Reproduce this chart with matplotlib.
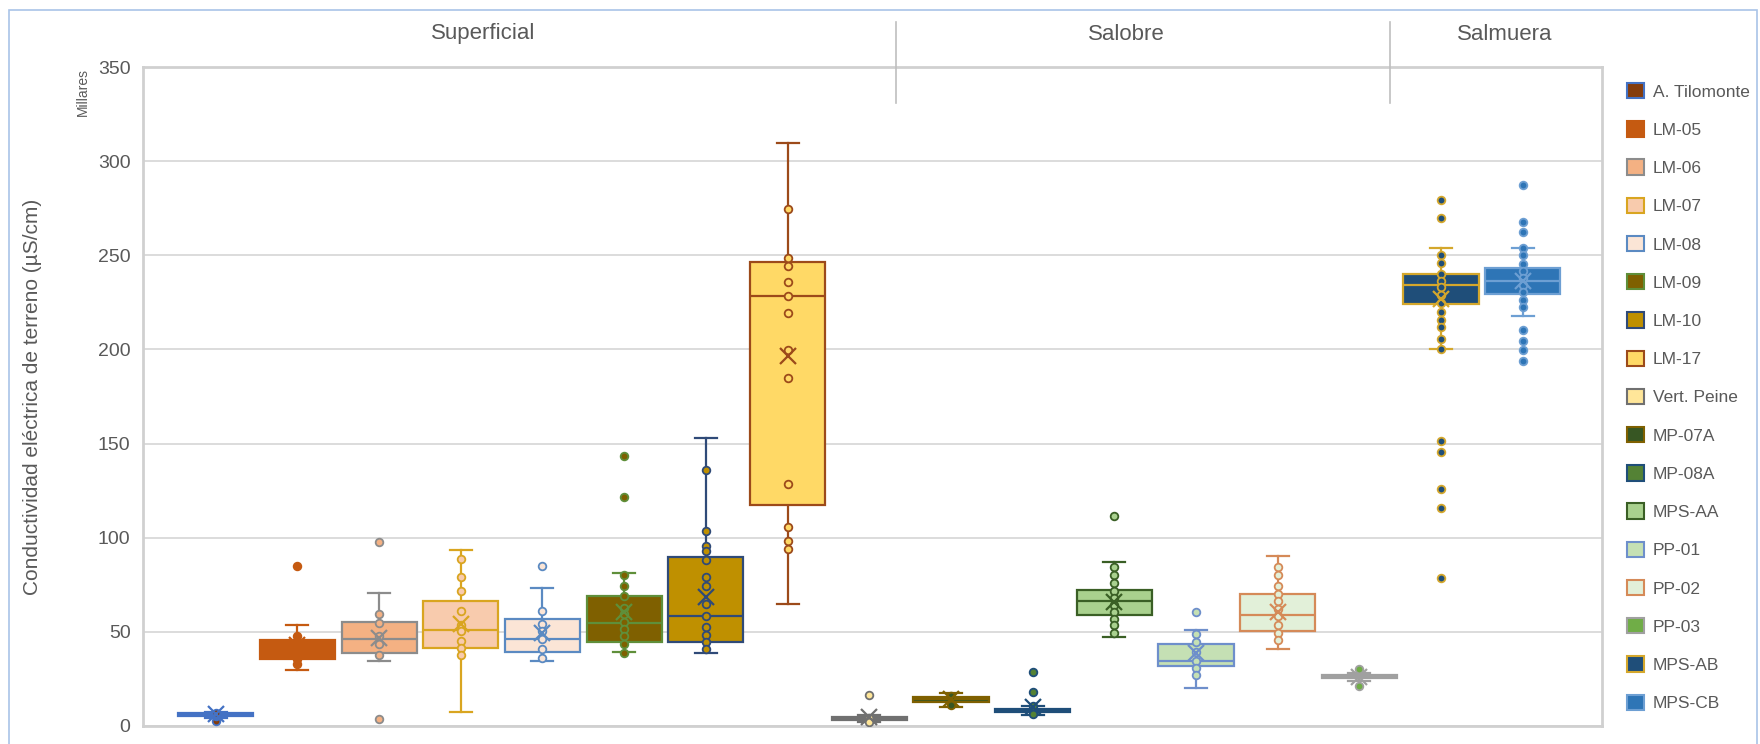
import numpy as np
import matplotlib
matplotlib.use('Agg')
import matplotlib.pyplot as plt
from matplotlib.patches import Patch, Rectangle
from matplotlib.lines import Line2D

plt.rcParams['font.family'] = ['Liberation Sans', 'DejaVu Sans']

#### DATA ####
names = ['A. Tilomonte', 'LM-05', 'LM-06', 'LM-07', 'LM-08', 'LM-09', 'LM-10', 'LM-17',
         'Vert. Peine', 'MP-07A', 'MP-08A', 'MPS-AA', 'PP-01', 'PP-02', 'PP-03',
         'MPS-AB', 'MPS-CB']
groups = ['Superficial', 'Salobre', 'Salmuera']

# box statistics (miles de uS/cm)
whis_lo = [4.5, 29.6, 34.7, 7.6, 34.4, 39.1, 39.0, 64.8, 2.3, 10.3, 6.0, 47.4, 20.2, 41.0, 24.0, 200.0, 217.9]
q1 = [5.3, 35.8, 38.9, 41.6, 39.3, 44.4, 44.8, 117.4, 3.4, 12.9, 7.3, 59.0, 32.0, 50.4, 25.4, 224.0, 229.4]
median = [6.0, 40.0, 46.0, 51.0, 46.4, 54.6, 58.3, 228.2, 4.2, 14.2, 8.1, 66.2, 34.5, 59.1, 26.1, 234.2, 236.5]
q3 = [6.8, 45.8, 55.0, 66.6, 56.8, 69.3, 90.0, 246.2, 5.0, 15.2, 9.2, 72.2, 43.4, 70.3, 26.9, 240.0, 243.1]
whis_hi = [7.2, 53.8, 70.6, 93.5, 73.3, 81.4, 152.8, 309.6, 6.0, 17.4, 10.6, 87.1, 51.0, 90.2, 28.0, 253.7, 253.9]
means = [6.5, 43.0, 46.5, 54.0, 49.4, 60.7, 68.5, 196.7, 4.9, 14.2, 10.3, 65.7, 38.6, 60.6, 26.0, 226.7, 236.5]

# individual points (inner points + outliers)
points = [
    [2.5, 5.5, 6.0, 6.5, 7.0],
    [85.0, 47.8, 35.8, 32.7],
    [97.5, 59.3, 54.5, 47.8, 43.3, 37.5, 3.8],
    [88.5, 79.1, 71.7, 61.3, 53.6, 50.4, 45.0, 41.4, 37.5],
    [85.0, 61.0, 54.2, 50.4, 46.4, 40.7, 36.1],
    [143.4, 121.5, 80.0, 74.4, 69.3, 62.8, 59.3, 55.0, 51.5, 48.0, 43.4, 39.0],
    [135.8, 103.7, 95.5, 92.8, 88.3, 79.1, 74.6, 64.8, 58.3, 52.6, 48.5, 44.4, 40.7],
    [274.4, 248.3, 244.4, 235.8, 228.2, 219.2, 199.8, 184.9, 128.6, 105.7, 98.0, 94.0],
    [16.5, 4.0, 2.3],
    [16.1, 11.0],
    [28.8, 18.2, 10.7, 6.4],
    [111.5, 84.3, 80.2, 75.9, 71.9, 67.9, 64.3, 60.4, 57.0, 53.5, 49.6],
    [60.5, 48.6, 44.8, 39.4, 34.5, 30.6, 27.1],
    [84.6, 80.0, 74.3, 70.2, 66.3, 62.4, 58.2, 53.4, 49.5, 45.6],
    [30.1, 21.3],
    [279.3, 270.0, 250.0, 245.8, 239.8, 236.4, 233.0, 229.0, 224.4, 220.0, 215.5, 211.8,
     205.8, 200.3, 151.5, 145.3, 125.9, 115.8, 78.6],
    [287.5, 267.7, 262.5, 254.0, 250.0, 245.5, 241.5, 238.0, 234.0, 230.3, 226.0, 222.5,
     210.1, 204.6, 199.9, 194.0],
]

#### STYLE ####
fills = ['#843c0c', '#c55a11', '#f4b183', '#f8cbad', '#fbe5d6', '#7f6000', '#bf9000', '#ffd966',
         '#ffe699', '#375623', '#548235', '#a9d18e', '#c5e0b4', '#e2f0d9', '#70ad47',
         '#1f4e79', '#2e75b6']
edges = ['#4472c4', '#c55a11', '#8c8c8c', '#d9a520', '#5b8ac2', '#5f8f3a', '#2f4a78', '#9c4a1a',
         '#707070', '#7f6000', '#1f4e79', '#3a5f25', '#6e8fcb', '#d58a58', '#a0a0a0',
         '#d4a72c', '#6d9fd3']
txt = '#595959'
W, H = 1760, 744

fig = plt.figure(figsize=(W / 100, H / 100), dpi=100)
ax = fig.add_axes([143 / W, 1 - 726 / H, (1602 - 143) / W, (726 - 67) / H])

pos = np.arange(len(names))
stats = []
for i in range(len(names)):
    stats.append(dict(whislo=whis_lo[i], q1=q1[i], med=median[i], q3=q3[i],
                      whishi=whis_hi[i], mean=means[i], label=names[i]))

bp = ax.bxp(stats, positions=pos, widths=0.92, patch_artist=True, showfliers=False,
            showmeans=False, capwidths=0.27, manage_ticks=False)
for i in range(len(names)):
    bp['boxes'][i].set(facecolor=fills[i], edgecolor=edges[i], linewidth=1.6, zorder=2)
    bp['medians'][i].set(color=edges[i], linewidth=1.6, zorder=3)
    for w in bp['whiskers'][2 * i:2 * i + 2]:
        w.set(color=edges[i], linewidth=1.6, zorder=1.5)
    for c in bp['caps'][2 * i:2 * i + 2]:
        c.set(color=edges[i], linewidth=1.6, zorder=3)
    ax.plot(np.full(len(points[i]), pos[i]), points[i], 'o', ms=5.5, mfc=fills[i],
            mec=edges[i], mew=1.3, zorder=4)
    ax.plot(pos[i], means[i], 'x', ms=11, mew=1.6, color=edges[i], zorder=5)

ax.set_xlim(-0.89, 16.97)
ax.set_ylim(0, 350)
ax.set_yticks(np.arange(0, 351, 50))
ax.set_xticks([])
ax.yaxis.grid(True, color='#d9d9d9', linewidth=1.3)
ax.set_axisbelow(True)
for s in ax.spines.values():
    s.set_color('#d0d0d0')
    s.set_linewidth(2)
ax.tick_params(axis='y', length=0, pad=9, labelsize=14, labelcolor=txt)
ax.set_ylabel('Conductividad eléctrica de terreno (µS/cm)', fontsize=15, color=txt, labelpad=40)
fig.text(83 / W, 1 - 92 / H, 'Millares', rotation=90, fontsize=10, color=txt, ha='center', va='center')

# category headers and separators
header_x = [483, 1126, 1505]
for g, x in zip(groups, header_x):
    fig.text(x / W, 1 - 34 / H, g, fontsize=16, color=txt, ha='center', va='center')
for x in [896, 1390]:
    fig.add_artist(Line2D([x / W, x / W], [1 - 22 / H, 1 - 103 / H], color='#bfbfbf', lw=1.2))

# chart border
fig.add_artist(Rectangle((9 / W, -0.02), 1 - 12 / W, 1 - 9.5 / H + 0.02, fill=False,
                         edgecolor='#a9c4e8', lw=1.2, transform=fig.transFigure))

handles = [Patch(facecolor=fills[i], edgecolor=edges[i], lw=1.5) for i in range(len(names))]
fig.legend(handles, names, loc='upper left', bbox_to_anchor=(1627 / W, 1 - 83 / H),
           frameon=False, fontsize=12.5, labelcolor=txt, handlelength=0.98, handleheight=0.98,
           handletextpad=0.5, labelspacing=1.245, borderpad=0, borderaxespad=0)

fig.savefig('out.png', dpi=100)
